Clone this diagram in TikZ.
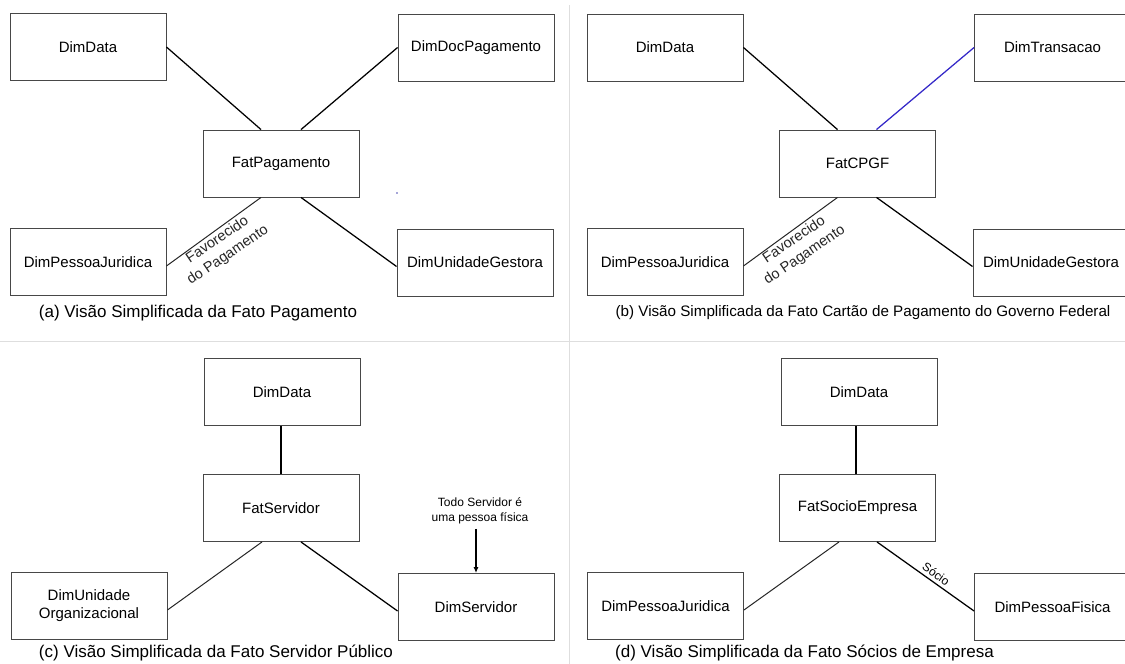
\documentclass[tikz,border=0pt]{standalone}
\usepackage{fontspec}
\setmainfont{Liberation Sans}
\usetikzlibrary{arrows.meta}
\definecolor{relblue}{RGB}{52,40,200}
\definecolor{sepgray}{RGB}{222,222,222}
\begin{document}
\begin{tikzpicture}[x=1pt,y=-1pt,
  dimbox/.style={draw=black!72, line width=0.9pt, minimum width=156pt, minimum height=67pt, inner sep=0pt, font=\fontsize{15}{18}\selectfont, align=center},
  conn/.style={line width=1.25pt, black},
  thinconn/.style={line width=1pt, black!85},
  captext/.style={font=\fontsize{17}{20}\selectfont, inner sep=0pt},
  capsmall/.style={font=\fontsize{15.2}{18}\selectfont, inner sep=0pt},
  rel/.style={font=\fontsize{14.5}{18.5}\selectfont, align=center, inner sep=0pt},
  smalltxt/.style={font=\fontsize{12}{15}\selectfont, align=center, inner sep=0pt},
  seprule/.style={draw=sepgray, line width=1pt}]
\useasboundingbox (0,0) rectangle (1125,664);
\clip (0,0) rectangle (1125,664);
\fill[white] (0,0) rectangle (1125,664);
% separators
\draw[seprule] (569,5) -- (569,664);
\draw[seprule] (0,341) -- (1125,341);

% ---------- panel (a)
\node[dimbox] (ddA) at (88,47) {DimData};
\node[dimbox] (docA) at (476,47.5) {DimDocPagamento};
\node[dimbox] (fA) at (281,163.5) {FatPagamento};
\node[dimbox] (pjA) at (88,262) {DimPessoaJuridica};
\node[dimbox] (ugA) at (475,262.5) {DimUnidadeGestora};
\draw[conn] (ddA.east) -- ([xshift=-20pt]fA.north);
\draw[conn] (docA.west) -- ([xshift=20pt]fA.north);
\draw[thinconn] ([yshift=-4pt]pjA.east) -- node[rel, pos=0.5, xshift=9pt, yshift=-16pt, rotate=34] {Favorecido\\do Pagamento} ([xshift=-20pt]fA.south);
\draw[conn] ([xshift=20pt]fA.south) -- ([yshift=-4pt]ugA.west);
\fill[blue!40!gray] (397,193) circle (0.8pt);
\node[captext] (capA) at (198,313) {(a) Visão Simplificada da Fato Pagamento};

% ---------- panel (b)
\node[dimbox] (ddB) at (665,47.5) {DimData};
\node[dimbox] (trB) at (1052.5,47.5) {DimTransacao};
\node[dimbox] (fB) at (857.5,163.5) {FatCPGF};
\node[dimbox] (pjB) at (665,262) {DimPessoaJuridica};
\node[dimbox] (ugB) at (1051,262.5) {DimUnidadeGestora};
\draw[conn] (ddB.east) -- ([xshift=-20pt]fB.north);
\draw[conn, relblue] (trB.west) -- ([xshift=19pt]fB.north);
\draw[thinconn] ([yshift=-4pt]pjB.east) -- node[rel, pos=0.5, xshift=9pt, yshift=-16pt, rotate=34] {Favorecido\\do Pagamento} ([xshift=-20pt]fB.south);
\draw[conn] ([xshift=19pt]fB.south) -- ([yshift=-4pt]ugB.west);
\node[capsmall] (capB) at (863,313) {(b) Visão Simplificada da Fato Cartão de Pagamento do Governo Federal};

% ---------- panel (c)
\node[dimbox] (ddC) at (282,392) {DimData};
\node[dimbox] (fC) at (281,508) {FatServidor};
\node[dimbox] (uoC) at (89,606) {DimUnidade\\Organizacional};
\node[dimbox] (svC) at (476,607) {DimServidor};
\draw[conn] (fC.north) -- (fC.north |- ddC.south);
\draw[thinconn] ([xshift=-19pt]fC.south) -- ([yshift=-4pt]uoC.east);
\draw[conn] ([xshift=20pt]fC.south) -- ([yshift=-4pt]svC.west);
\node[smalltxt] (note) at (480,510.5) {Todo Servidor é\\uma pessoa física};
\draw[line width=1.2pt, -{Latex[length=6pt,width=5pt]}, shorten <=5pt] (note.south -| svC.north) -- (svC.north);
\node[captext] (capC) at (216,653) {(c) Visão Simplificada da Fato Servidor Público};

% ---------- panel (d)
\node[dimbox] (ddD) at (859,392) {DimData};
\node[dimbox] (fD) at (857.5,508) {FatSocioEmpresa};
\node[dimbox] (pjD) at (665.5,606) {DimPessoaJuridica};
\node[dimbox] (pfD) at (1052.5,607) {DimPessoaFisica};
\draw[conn] ([xshift=-1.5pt]fD.north) -- ([xshift=-1.5pt]fD.north |- ddD.south);
\draw[thinconn] ([xshift=-18.5pt]fD.south) -- ([yshift=-4pt]pjD.east);
\draw[conn] ([xshift=19.5pt]fD.south) -- node[smalltxt, sloped, above, pos=0.56, inner sep=3pt] {Sócio} ([yshift=-4pt]pfD.west);
\node[captext] (capD) at (804.5,653) {(d) Visão Simplificada da Fato Sócios de Empresa};
\end{tikzpicture}
\end{document}
